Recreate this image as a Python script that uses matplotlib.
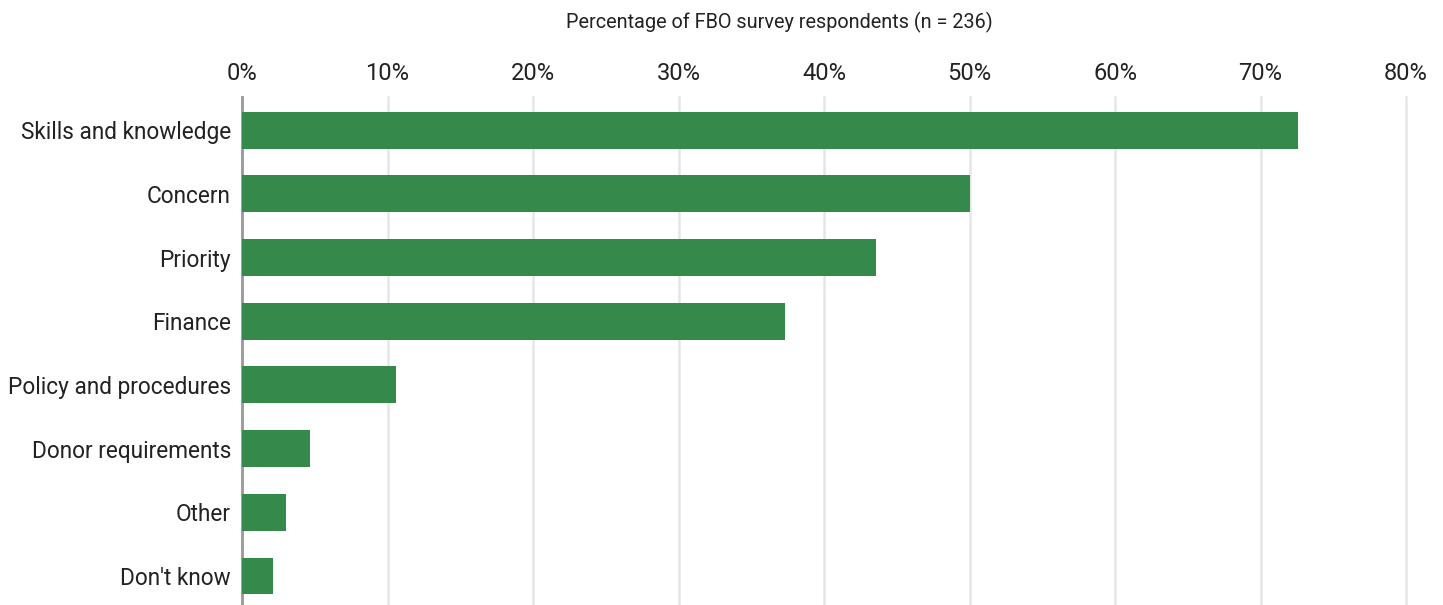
import matplotlib.pyplot as plt
import matplotlib.transforms as mtransforms
from matplotlib.ticker import FuncFormatter

plt.rcParams['font.family'] = ['Roboto', 'DejaVu Sans']

# Data (percent of 236 respondents)
categories = ["Skills and knowledge", "Concern", "Priority", "Finance",
              "Policy and procedures", "Donor requirements", "Other", "Don't know"]
values = [72.6, 50.0, 43.6, 37.3, 10.6, 4.7, 3.0, 2.1]
xticks = [0, 10, 20, 30, 40, 50, 60, 70, 80]

fig = plt.figure(figsize=(14.43, 6.05), dpi=100)
ax = fig.add_axes([242 / 1443, 0, (1406 - 242) / 1443, 1 - 97 / 605])

ypos = list(range(len(categories)))
ax.barh(ypos, values, height=0.58, color='#35894a', zorder=3)

ax.set_xlim(0, 80)
ax.set_ylim(len(categories) - 1 + 0.455, -0.52)
ax.set_yticks(ypos)
ax.set_yticklabels(categories, fontsize=16.3, color='#222222')
# nudge category labels up a little
shift = mtransforms.ScaledTranslation(0, 3 / 100, fig.dpi_scale_trans)
for t in ax.get_yticklabels():
    t.set_transform(t.get_transform() + shift)
ax.set_xticks(xticks)
ax.xaxis.set_major_formatter(FuncFormatter(lambda v, p: f"{v:.0f}%"))
ax.xaxis.tick_top()
ax.tick_params(axis='x', length=0, pad=9, labelsize=17, labelcolor='#222222')
ax.tick_params(axis='y', length=0, pad=8)

ax.grid(axis='x', color='#e6e6e6', linewidth=1.8, zorder=0)
for g in ax.get_xgridlines():
    g.set_clip_on(False)
for s in ['top', 'right', 'bottom']:
    ax.spines[s].set_visible(False)
ax.spines['left'].set_color('#9a9a9a')
ax.spines['left'].set_linewidth(2)

fig.text(779 / 1443, 1 - 22 / 605, "Percentage of FBO survey respondents (n = 236)",
         ha='center', va='center', fontsize=14.3, color='#222222')

fig.savefig('out.png', dpi=100)
